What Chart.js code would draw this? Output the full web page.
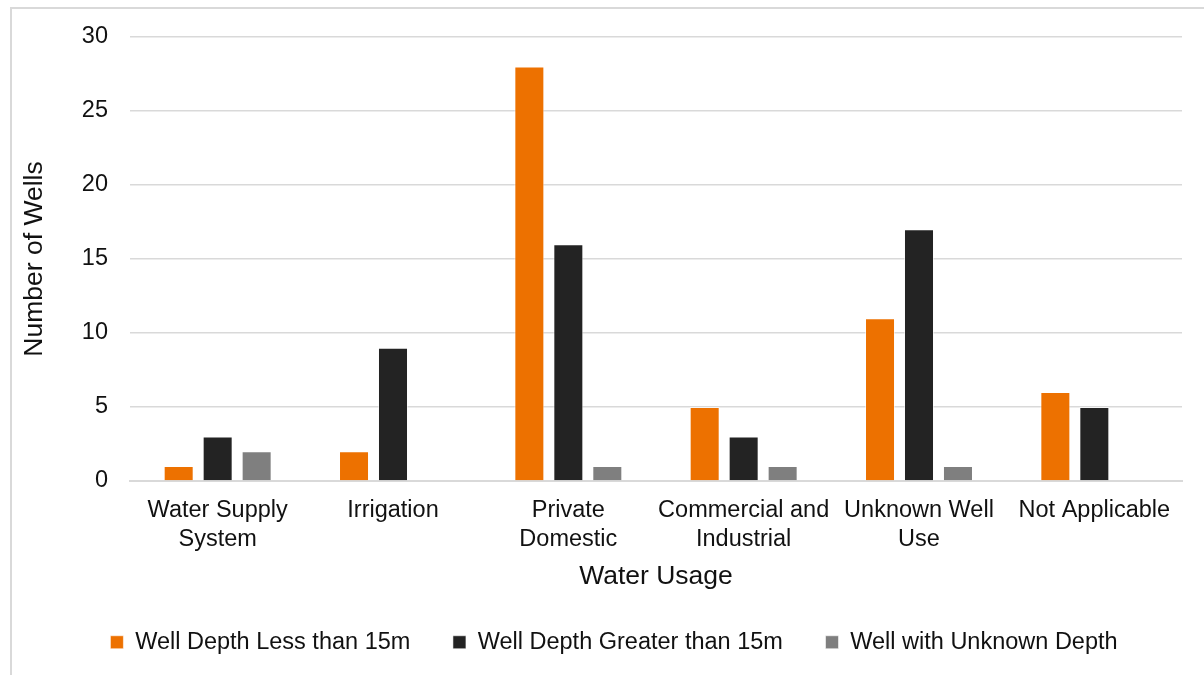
<!DOCTYPE html>
<html>
<head>
<meta charset="utf-8">
<script src="https://cdn.jsdelivr.net/npm/chart.js@4/dist/chart.umd.min.js"></script>
<style>
  html, body { margin: 0; padding: 0; background: #ffffff; }
  #wrap { position: relative; width: 1204px; height: 675px; overflow: hidden; }
  #frame { position: absolute; left: 10px; top: 7px; right: -10px; bottom: -10px;
           border-left: 2px solid #d9d9d9; border-top: 2px solid #d9d9d9; pointer-events: none; }
  canvas { position: absolute; left: 0; top: 0; }
</style>
</head>
<body>
<div id="wrap">
  <div id="frame"></div>
  <canvas id="chart" width="1204" height="675"></canvas>
</div>
<script>
// Well counts by water usage, split by well depth
const categories = [
  ['Water Supply', 'System'],
  'Irrigation',
  ['Private', 'Domestic'],
  ['Commercial and', 'Industrial'],
  ['Unknown Well', 'Use'],
  'Not Applicable'
];
const shallowWells = [1, 2, 28, 5, 11, 6];
const deepWells = [3, 9, 16, 3, 17, 5];
const unknownDepthWells = [2, 0, 1, 1, 1, 0];
const yTicks = [0, 5, 10, 15, 20, 25, 30];

const seriesNames = ['Well Depth Less than 15m', 'Well Depth Greater than 15m', 'Well with Unknown Depth'];
const seriesColors = ['#ED7100', '#232323', '#7F7F7F'];

const FONT = "'Liberation Sans', Arial, sans-serif";
const textColor = '#111111';

// nudges the centred legend row sideways
const legendShift = {
  id: 'legendShift',
  afterLayout(chart) {
    const lg = chart.legend;
    if (lg) { lg.left += 17; lg.right += 17; lg.top -= 1; lg.bottom -= 1; }
  }
};

new Chart(document.getElementById('chart'), {
  type: 'bar',
  data: {
    labels: categories,
    datasets: [shallowWells, deepWells, unknownDepthWells].map((d, i) => ({
      label: seriesNames[i],
      data: d,
      backgroundColor: seriesColors[i],
      borderColor: 'rgba(255,255,255,0.55)',
      borderWidth: 1,
      barPercentage: 0.77,
      categoryPercentage: 0.667
    }))
  },
  options: {
    responsive: false,
    animation: false,
    devicePixelRatio: 1,
    layout: { padding: { left: 12, right: 22, top: 37, bottom: 10 } },
    scales: {
      x: {
        grid: { display: false, drawTicks: false },
        border: { display: true, color: '#d9d9d9', width: 2 },
        ticks: {
          color: textColor, font: { family: FONT, size: 23.5 },
          padding: 16, maxRotation: 0, minRotation: 0, autoSkip: false
        },
        title: {
          display: true, text: 'Water Usage', color: textColor,
          font: { family: FONT, size: 26.5 }, padding: { top: 0, bottom: -4 }
        },
        afterFit(scale) { scale.height = 108; }
      },
      y: {
        min: 0, max: 30,
        afterBuildTicks(scale) { scale.ticks = yTicks.map(v => ({ value: v })); },
        grid: { color: '#d9d9d9', lineWidth: 1.5, drawTicks: false },
        border: { display: false },
        ticks: { color: textColor, font: { family: FONT, size: 23.5 }, padding: 22 },
        title: {
          display: true, text: 'Number of Wells', color: textColor,
          font: { family: FONT, size: 26.5 }, padding: { top: 7, bottom: 0 }
        },
        afterFit(scale) { scale.width = 118; }
      }
    },
    plugins: {
      legend: {
        position: 'bottom',
        labels: {
          boxWidth: 13, boxHeight: 13, padding: 42.6,
          color: textColor, font: { family: FONT, size: 23.5 }
        }
      },
      tooltip: { enabled: false }
    }
  },
  plugins: [legendShift]
});
</script>
</body>
</html>
